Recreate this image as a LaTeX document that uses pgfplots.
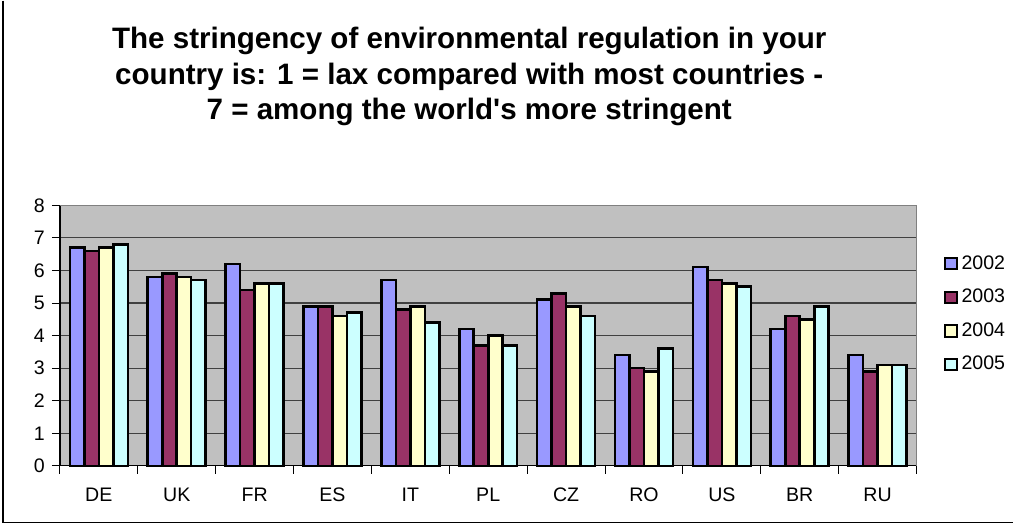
\documentclass[border=0pt]{standalone}
\usepackage{pgfplots}
\pgfplotsset{compat=1.18}
\usepackage{fontspec}
\setmainfont{Liberation Sans}

\definecolor{c2002}{HTML}{9999FF}
\definecolor{c2003}{HTML}{993366}
\definecolor{c2004}{HTML}{FFFFCC}
\definecolor{c2005}{HTML}{CCFFFF}
\definecolor{plotbg}{HTML}{C0C0C0}

\begin{document}
\begin{tikzpicture}
\path (0,0) rectangle (507.5pt,263pt);
\draw[line width=0.6pt] (1.5pt,263pt) -- (1.5pt,1.5pt) -- (507.5pt,1.5pt);
\node[align=center, font=\bfseries\fontsize{14.8}{18}\selectfont] at (235pt,225pt)
  {The stringency of environmental regulation in your\\
   country is: 1 = lax compared with most countries -\\
   7 = among the world\textquotesingle s more stringent};
\begin{axis}[
  at={(30pt,30pt)}, anchor=south west,
  width=429pt, height=130.5pt, scale only axis,
  ybar=0pt, bar width=0.186,
  xmin=-0.5, xmax=10.5,
  ymin=0, ymax=8,
  ytick={0,1,...,8},
  xtick={0,...,10},
  xticklabels={DE,UK,FR,ES,IT,PL,CZ,RO,US,BR,RU},
  minor xtick={-0.5,0.5,...,10.5},
  major x tick style={draw=none},
  minor tick length=4pt,
  tick align=outside,
  ytick style={black, line width=0.5pt},
  xtick style={black, line width=0.5pt},
  major tick length=4pt,
  ymajorgrids,
  grid style={black!75, line width=0.6pt},
  axis background/.style={fill=plotbg},
  axis x line*=bottom, axis y line*=left,
  axis line style={black, line width=0.6pt},
  tick label style={font=\fontsize{9.8}{11}\selectfont},
  /pgf/number format/assume math mode=true,
  xticklabel style={yshift=-3.5pt},
  every axis plot/.append style={draw=black, line width=1.3pt},
  legend style={at={(1.025,0.84)}, anchor=north west, draw=none, fill=none,
    font=\fontsize{9.8}{11}\selectfont, row sep=4.5pt,
    /tikz/every even column/.append style={column sep=1.5pt}},
  legend image code/.code={\draw[#1, draw=black, line width=1pt] (0pt,-2.8pt) rectangle (5.6pt,2.8pt);},
  clip=false,
]
\draw[gray, line width=0.6pt] (rel axis cs:0,1) -- (rel axis cs:1,1) -- (rel axis cs:1,0);
\addplot[fill=c2002] coordinates {(0,6.7) (1,5.8) (2,6.2) (3,4.9) (4,5.7) (5,4.2) (6,5.1) (7,3.4) (8,6.1) (9,4.2) (10,3.4)};
\addplot[fill=c2003] coordinates {(0,6.6) (1,5.9) (2,5.4) (3,4.9) (4,4.8) (5,3.7) (6,5.3) (7,3.0) (8,5.7) (9,4.6) (10,2.9)};
\addplot[fill=c2004] coordinates {(0,6.7) (1,5.8) (2,5.6) (3,4.6) (4,4.9) (5,4.0) (6,4.9) (7,2.9) (8,5.6) (9,4.5) (10,3.1)};
\addplot[fill=c2005] coordinates {(0,6.8) (1,5.7) (2,5.6) (3,4.7) (4,4.4) (5,3.7) (6,4.6) (7,3.6) (8,5.5) (9,4.9) (10,3.1)};
\legend{2002,2003,2004,2005}
\end{axis}
\end{tikzpicture}
\end{document}
